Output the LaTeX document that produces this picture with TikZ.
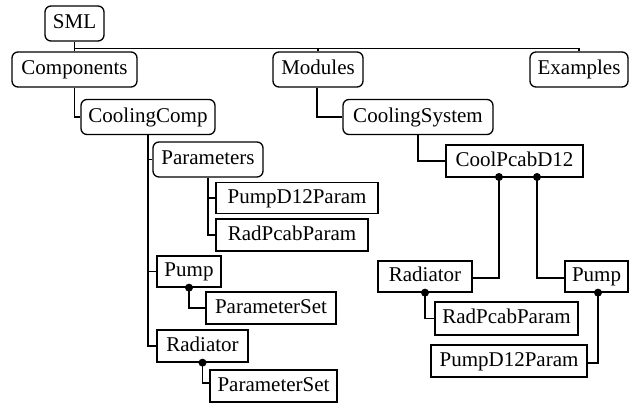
\documentclass[tikz,border=0pt]{standalone}
\usepackage{fontspec}
\setmainfont{Liberation Serif}
\usetikzlibrary{positioning}
\usetikzlibrary{calc}
\tikzset{every picture/.style={line width=1.3pt},
  pkg/.style={draw, rounded corners=6pt, minimum height=35pt, inner xsep=4pt, text height=14pt, text depth=4pt, font=\rmfamily\fontsize{21}{25}\selectfont},
  cls/.style={draw, minimum height=32pt, inner xsep=4pt, text height=14pt, text depth=4pt, font=\rmfamily\fontsize{21}{25}\selectfont},
  dot/.style={circle, fill, inner sep=0pt, minimum size=8pt}}

\begin{document}
\begin{tikzpicture}[x=1pt,y=-1pt]
\useasboundingbox (0,0) rectangle (634,405);
% packages
\node (sml)    [pkg, minimum width=59]  at (74.5,23.5) {SML};
\node (comp)   [pkg, minimum width=125] at (74.5,69.5) {Components};
\node (mods)   [pkg, minimum width=90]  at (318,69.5)  {Modules};
\node (exam)   [pkg, minimum width=98]  at (579,69.5)  {Examples};
\node (ccomp)  [pkg, minimum width=134] at (148,117)   {CoolingComp};
\node (csys)   [pkg, minimum width=150] at (418,117)   {CoolingSystem};
\node (params) [pkg, minimum width=110] at (208,159.5) {Parameters};
% classes
\node (cpd)    [cls, minimum width=137] at (514.5,161) {CoolPcabD12};
\node (pd1)    [cls, minimum width=162, minimum height=31] at (297,198) {PumpD12Param};
\node (rp1)    [cls, minimum width=152] at (292,235)   {RadPcabParam};
\node (pump1)  [cls, minimum width=64, minimum height=31] at (189,271.5) {Pump};
\node (pset1)  [cls, minimum width=130] at (271,308)   {ParameterSet};
\node (rad1)   [cls, minimum width=91]  at (202.5,346) {Radiator};
\node (pset2)  [cls, minimum width=127] at (273.5,386) {ParameterSet};
\node (rad2)   [cls, minimum width=94, minimum height=31] at (425,276.5) {Radiator};
\node (pump2)  [cls, minimum width=63, minimum height=31] at (596.5,276.5) {Pump};
\node (rp2)    [cls, minimum width=143, minimum height=33] at (506.5,318.5) {RadPcabParam};
\node (pd2)    [cls, minimum width=156] at (509,361)   {PumpD12Param};
% dots
\node (d1) [dot] at (499,177) {};
\node (d2) [dot] at (537,177) {};
\node (d3) [dot] at (pump1.south) {};
\node (d4) [dot] at (rad1.south) {};
\node (d5) [dot] at (rad2.south) {};
\node (d6) [dot, xshift=1.5pt] at (pump2.south) {};
% tree lines
\draw (sml.south) -- (comp.north);
\draw (sml.south) ++(0,6.5) -| (mods.north);
\draw (sml.south) ++(0,6.5) -| (exam.north);
\draw (comp.south) |- (ccomp.west);
\draw ([xshift=-1pt]mods.south) |- (csys.west);
\draw (csys.south) |- (cpd.west);
\draw (ccomp.south) |- (params.west);
\draw (ccomp.south) |- (pump1.west);
\draw (ccomp.south) |- (rad1.west);
\draw (params.south) |- (pd1.west);
\draw (params.south) |- (rp1.west);
\draw (d3.center) |- (pset1.west);
\draw (d4.center) |- ([yshift=3pt]pset2.west);
\draw ([yshift=-1.5pt]rad2.east) -| (d1.center);
\draw ([yshift=-1.5pt]pump2.west) -| (d2.center);
\draw (d5.center) |- (rp2.west);
\draw (d6.center) |- ([yshift=-2pt]pd2.east);
\end{tikzpicture}
\end{document}
